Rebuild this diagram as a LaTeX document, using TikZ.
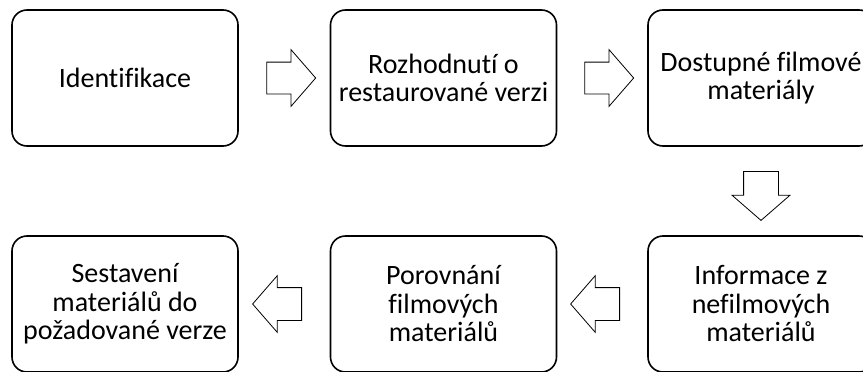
\documentclass[tikz,border=0pt]{standalone}
\usepackage{fontspec}
\setmainfont[Ligatures=NoCommon]{Carlito}
\usetikzlibrary{shapes.arrows,calc}

\tikzset{
  krok/.style={draw, line width=1.6pt, rounded corners=15pt, minimum width=226pt,
    minimum height=136pt, align=center, inner sep=2pt,
    font=\fontsize{28}{28.5}\selectfont},
  sipka/.style={single arrow, draw, line width=0.8pt, minimum height=49pt,
    minimum width=0pt, inner sep=0pt, inner ysep=15.5pt,
    single arrow head extend=12.5pt, single arrow tip angle=98}
}

\begin{document}
\begin{tikzpicture}[x=1pt,y=1pt]
     \clip (0,0) rectangle (863,-372);
     \useasboundingbox (0,0) rectangle (863,-372);
     % horni rada
     \node[krok] (ident) at (125,-78) {Identifikace};
     \node[krok] (rozh) at (443.5,-78) {Rozhodnutí o\\restaurované verzi};
     \node[krok] (dost) at (761,-78) {Dostupné filmové\\materiály};
     % dolni rada
     \node[krok] (info) at (761,-304) {Informace z\\nefilmových\\materiálů};
     \node[krok] (poro) at (443.5,-304) {Porovnání\\filmových\\materiálů};
     \node[krok] (sest) at (125,-304) {Sestavení\\materiálů do\\požadované verze};
     % sipky
     \node[sipka] (s1) at ($(ident.east)!0.5!(rozh.west)$) {};
     \node[sipka] (s2) at ($(rozh.east)!0.5!(dost.west)$) {};
     \node[sipka, rotate=-90, inner ysep=17pt, single arrow head extend=11.5pt]
          (s3) at ($(dost.south)!0.47!(info.north)$) {};
     \node[sipka, shape border rotate=180, inner ysep=16pt, single arrow head extend=12pt]
          (s4) at ($(info.west)!0.5!(poro.east)$) {};
     \node[sipka, shape border rotate=180, inner ysep=16pt, single arrow head extend=12pt]
          (s5) at ($(poro.west)!0.5!(sest.east)$) {};
\end{tikzpicture}
\end{document}
